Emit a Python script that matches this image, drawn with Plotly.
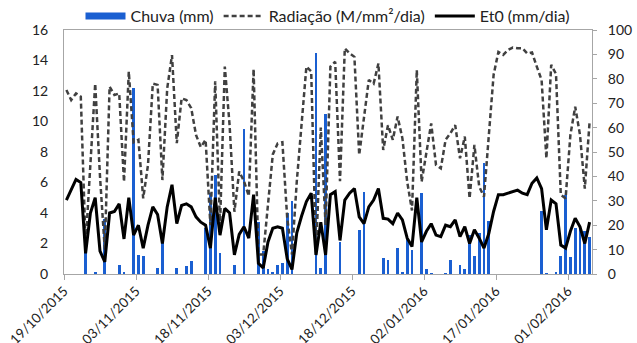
import plotly.graph_objects as go
import pandas as pd

start_date = "2015-10-19"
n_days = 110

# Chuva (mm): day index -> value (other days 0)
chuva_days = [4, 6, 8, 11, 12, 14, 15, 16, 19, 20, 23, 25, 26, 29, 30, 31, 32, 35, 37,
              40, 41, 42, 43, 44, 45, 46, 47, 52, 53, 54, 57, 61, 62, 66, 67, 69, 70,
              71, 72, 74, 75, 76, 79, 80, 82, 83, 84, 85, 86, 87, 88, 99, 100, 102,
              103, 104, 105, 106, 107, 108, 109]
chuva_vals = [1.5, 0.1, 3.6, 0.6, 0.1, 12.2, 1.25, 1.15, 0.4, 2.6, 0.4, 0.5, 0.85, 3.0, 5.3, 6.5, 1.4, 0.6, 9.5,
              3.4, 1.5, 0.3, 0.1, 0.6, 0.75, 4.0, 4.8, 14.5, 0.4, 10.5, 2.1, 2.9, 5.4, 1.05, 0.9, 1.7, 0.1,
              2.3, 1.6, 5.3, 0.3, 0.05, 0.05, 0.9, 0.6, 0.3, 2.55, 1.15, 2.7, 7.3, 3.5, 4.1, 0.05, 0.1,
              1.2, 5.2, 1.1, 3.0, 3.1, 2.8, 2.4]

radiacao = [75.4, 71.3, 74, 72.7, 12, 45, 78, 40, 10, 76.8,
            73.4, 74, 37.8, 83, 54, 55, 31, 44.7, 78, 77.5,
            38.5, 76, 89.7, 53.6, 72, 71.3, 68, 57, 52, 55,
            20, 79, 20, 85, 61, 25.5, 42, 38, 32, 84,
            8, 8, 28, 49, 53.5, 54, 23, 8, 38, 60,
            85, 83, 8, 60, 20, 85, 87, 38, 92.5, 90.4,
            89, 48.8, 64, 79.5, 78, 86.3, 50.8, 61, 55, 64.5,
            55.6, 37.8, 26, 83.6, 37.8, 50, 61.7, 44.7, 43.3, 55,
            57.7, 61, 47.4, 56.3, 31, 52.9, 35.8, 31.7, 57, 81.6,
            91, 89.8, 91.8, 92.8, 92.5, 92.5, 90.4, 90.8, 85, 79.5,
            47.4, 85.7, 82, 32.4, 31, 57, 68.6, 57, 35, 62.4]

et0 = [4.85, 5.5, 6.2, 6.0, 1.35, 4.0, 5.0, 1.5, 0.8, 4.0,
       4.1, 4.6, 2.3, 5.0, 2.55, 3.2, 1.7, 3.2, 4.4, 3.9,
       2.0, 4.4, 5.85, 3.3, 4.5, 4.6, 4.4, 3.75, 3.4, 3.2,
       1.7, 5.0, 2.55, 4.3, 4.0, 1.25, 2.6, 3.1, 2.35, 5.2,
       0.7, 0.4, 2.1, 3.0, 3.1, 3.0, 1.0, 0.3, 2.7, 3.8,
       4.75, 5.3, 1.25, 3.4, 1.25, 5.2, 5.4, 2.2, 4.85, 5.3,
       5.6, 3.75, 3.3, 4.4, 4.85, 5.6, 3.65, 3.6, 3.3, 4.0,
       3.55, 2.35, 1.8, 5.0, 2.1, 2.8, 3.3, 2.55, 2.45, 3.2,
       3.1, 3.55, 2.45, 3.1, 2.0, 2.9, 2.35, 1.7, 2.65, 4.1,
       5.2, 5.2, 5.3, 5.4, 5.5, 5.3, 5.2, 5.95, 6.3, 5.6,
       2.9, 4.85, 4.6, 1.9, 1.7, 2.8, 3.65, 3.1, 2.0, 3.4]

tick_labels = ["19/10/2015", "03/11/2015", "18/11/2015", "03/12/2015",
               "18/12/2015", "02/01/2016", "17/01/2016", "01/02/2016"]

dates = pd.date_range(start_date, periods=n_days, freq="D")
xc = dates + pd.Timedelta(hours=12)
chuva = [0.0] * n_days
for d, v in zip(chuva_days, chuva_vals):
    chuva[d] = v
tickvals = [pd.to_datetime(t, format="%d/%m/%Y") for t in tick_labels]

FONT = "Lato, 'Open Sans', sans-serif"
AX = "#a6a6a6"
BLUE = "#1a5fd1"

fig = go.Figure()
fig.add_trace(go.Bar(x=xc, y=chuva, name="Chuva (mm)", marker=dict(color=BLUE, line=dict(width=0)),
                     width=0.55 * 86400000, yaxis="y", showlegend=False))
# legend entry for the bars (wide rectangle like the reference)
fig.add_trace(go.Scatter(x=[None], y=[None], name="Chuva (mm)", mode="lines",
                         line=dict(color=BLUE, width=7), yaxis="y"))
fig.add_trace(go.Scatter(x=xc, y=radiacao, name="Radiação (M/mm²/dia)", mode="lines",
                         line=dict(color="#404040", width=2.5, dash="5px,3px"), yaxis="y2"))
fig.add_trace(go.Scatter(x=xc, y=et0, name="Et0 (mm/dia)", mode="lines",
                         line=dict(color="black", width=3), yaxis="y3"))

fig.update_layout(
    width=637, height=343,
    margin=dict(l=64, r=45, t=30, b=69, autoexpand=False),
    paper_bgcolor="white", plot_bgcolor="white",
    font=dict(family=FONT, size=13, color="#222"),
    showlegend=True,
    legend=dict(orientation="h", x=0.5, xanchor="center", xref="paper",
                y=1 - 16 / 343, yanchor="middle", yref="container",
                font=dict(size=16, color="#222"), itemwidth=40, tracegroupgap=0,
                bgcolor="rgba(0,0,0,0)"),
    bargap=0,
    xaxis=dict(type="date", range=[dates[0], dates[-1] + pd.Timedelta(days=1)],
               tickvals=tickvals, ticktext=tick_labels, tickangle=-45,
               ticks="outside", ticklen=5, tickcolor=AX, automargin=False,
               showline=True, linecolor=AX, linewidth=1, mirror=True,
               showgrid=False, zeroline=False, tickfont=dict(size=13.5),
               ticklabelstandoff=-2),
    yaxis=dict(range=[0, 16], dtick=2, showline=True, linecolor=AX, linewidth=1,
               showgrid=False, zeroline=False, ticks="", ticklabelstandoff=12,
               automargin=False, tickfont=dict(size=14)),
    yaxis2=dict(range=[0, 100], dtick=10, overlaying="y", side="right",
                showline=True, linecolor=AX, linewidth=1, showgrid=False,
                zeroline=False, ticks="outside", ticklen=4, tickcolor=AX,
                automargin=False, ticklabelstandoff=8, tickfont=dict(size=14)),
    yaxis3=dict(range=[0, 16], overlaying="y", visible=False),
)

fig.write_html("out.html")
